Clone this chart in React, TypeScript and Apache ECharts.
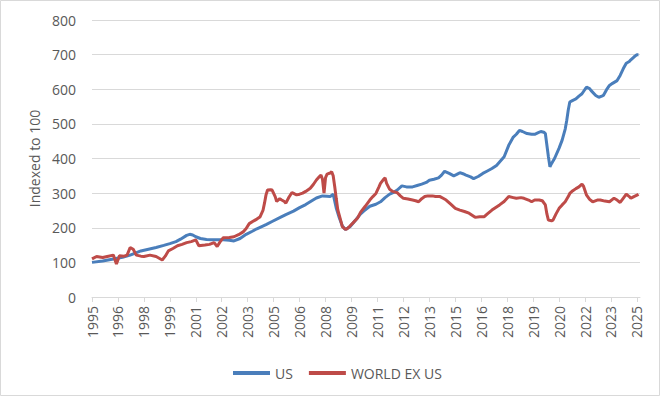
import React, { useEffect, useRef } from "react";
import * as echarts from "echarts";

// Monthly categories, first month = June 1995 (360 months)
const startYear = 1995;
const startMonth = 6;
const monthCount = 360;
const categories: string[] = [];
for (let k = 0; k < monthCount; k++) {
  const m = startMonth - 1 + k;
  const y = startYear + Math.floor(m / 12);
  const mm = (m % 12) + 1;
  categories.push(`${y}-${mm < 10 ? "0" + mm : mm}`);
}

// Month offsets (from Jun 1995) and values
const usMonth = [0, 7, 14, 20, 25, 32, 37, 42, 47, 51, 55, 58, 62, 64, 66, 68, 71, 75, 79, 86, 90, 93, 97, 101, 105, 108, 114, 118, 123, 127, 132, 136, 140, 144, 147, 151, 154, 156, 158, 160, 162, 164, 166, 169, 173, 176, 178, 182, 186, 189, 192, 195, 198, 200, 203, 206, 210, 213, 216, 219, 221, 224, 227, 229, 231, 234, 237, 239, 241, 243, 245, 248, 250, 253, 256, 259, 262, 265, 267, 270, 273, 276, 278, 280, 282, 285, 288, 290, 292, 294, 296, 297, 299, 300, 301, 303, 306, 308, 310, 311, 312, 313, 315, 317, 319, 321, 323, 324, 326, 327, 330, 332, 334, 335, 337, 339, 341, 344, 346, 348, 350, 352, 353, 355, 357, 358];
const usValue = [100, 104, 110, 115, 121, 133, 138, 143, 149, 154, 160, 167, 178, 181, 179, 174, 169, 166, 165, 165, 164, 162, 169, 181, 190, 197, 209, 218, 229, 238, 248, 258, 267, 278, 286, 292, 291, 290, 297, 257, 229, 205, 195, 203, 224, 240, 248, 262, 268, 275, 287, 297, 303, 309, 321, 318, 318, 322, 326, 331, 337, 340, 344, 352, 363, 357, 350, 354, 359, 356, 352, 347, 342, 348, 357, 364, 371, 380, 390, 405, 438, 462, 470, 481, 478, 472, 470, 470, 474, 478, 476, 472, 405, 376, 385, 400, 430, 453, 485, 510, 540, 563, 568, 572, 580, 587, 600, 606, 602, 596, 582, 577, 580, 582, 598, 611, 617, 625, 640, 659, 675, 680, 685, 693, 700, 700];

const worldMonth = [0, 3, 7, 10, 14, 16, 18, 21, 23, 25, 27, 29, 32, 34, 38, 42, 44, 46, 48, 50, 53, 56, 59, 62, 65, 68, 70, 74, 77, 80, 82, 84, 86, 90, 93, 96, 99, 101, 103, 106, 108, 110, 112, 113, 114, 115, 117, 118, 120, 121, 123, 124, 126, 127, 129, 131, 133, 134, 136, 138, 140, 143, 145, 147, 149, 150, 151, 152, 153, 154, 156, 157, 158, 159, 160, 161, 163, 164, 166, 167, 169, 171, 174, 176, 179, 182, 184, 186, 188, 189, 191, 192, 193, 195, 197, 200, 202, 204, 207, 210, 212, 214, 216, 218, 220, 223, 225, 228, 230, 232, 235, 238, 241, 244, 247, 249, 251, 254, 257, 259, 262, 265, 267, 270, 273, 276, 278, 281, 283, 286, 288, 290, 293, 295, 297, 298, 299, 301, 302, 304, 306, 308, 310, 312, 313, 315, 317, 319, 321, 322, 324, 326, 328, 331, 333, 336, 339, 341, 342, 344, 346, 348, 350, 352, 353, 355, 357, 358];
const worldValue = [110, 117, 114, 117, 121, 95, 119, 118, 121, 143, 138, 121, 118, 117, 121, 117, 112, 107, 118, 133, 140, 148, 152, 157, 160, 165, 148, 150, 152, 157, 146, 160, 171, 172, 174, 180, 188, 198, 212, 220, 225, 231, 250, 271, 295, 309, 310, 309, 290, 276, 284, 281, 276, 271, 288, 302, 297, 295, 297, 300, 305, 314, 325, 338, 348, 352, 340, 300, 345, 355, 358, 362, 350, 319, 285, 252, 220, 203, 195, 197, 205, 214, 228, 245, 262, 280, 290, 299, 318, 328, 340, 344, 328, 311, 305, 301, 292, 285, 283, 280, 278, 275, 284, 290, 292, 292, 290, 290, 285, 280, 268, 256, 251, 247, 242, 236, 230, 232, 232, 240, 251, 260, 266, 276, 290, 287, 285, 287, 285, 280, 275, 280, 280, 278, 266, 240, 222, 220, 222, 240, 256, 266, 275, 290, 299, 307, 313, 318, 326, 320, 294, 282, 275, 280, 280, 277, 275, 282, 285, 280, 273, 285, 297, 290, 285, 290, 294, 297];

const yTicks = { min: 0, max: 800, interval: 100 };

export default function App() {
  const ref = useRef<HTMLDivElement>(null);
  useEffect(() => {
    document.body.style.margin = "0";
    if (!ref.current) return;
    const chart = echarts.init(ref.current, undefined, { renderer: "svg" });
    const font = "'Open Sans', 'Liberation Sans', sans-serif";
    const txt = "#595959";
    chart.setOption({
      animation: false,
      textStyle: { fontFamily: font },
      grid: { left: 92, right: 20, top: 20, bottom: 99, containLabel: false },
      graphic: [
        {
          type: "rect",
          shape: { x: 0.5, y: 0.5, width: 659, height: 395 },
          style: { fill: "none", stroke: "#d9d9d9", lineWidth: 1 },
          silent: true,
        },
      ],
      legend: {
        left: 228,
        top: 361,
        icon: "rect",
        itemWidth: 37,
        itemHeight: 4,
        itemGap: 16,
        textStyle: { fontSize: 14, color: txt, fontFamily: font },
        data: ["US", "WORLD EX US"],
      },
      xAxis: {
        type: "category",
        data: categories,
        boundaryGap: false,
        axisLine: { lineStyle: { color: "#d9d9d9", width: 1 } },
        axisTick: { show: true, interval: 16, length: 5, lineStyle: { color: "#d9d9d9" } },
        axisLabel: {
          interval: 16,
          rotate: 90,
          margin: 9,
          fontSize: 14,
          color: txt,
          fontFamily: font,
          formatter: (v: string) => v.slice(0, 4),
        },
        splitLine: { show: false },
      },
      yAxis: {
        type: "value",
        min: yTicks.min,
        max: yTicks.max,
        interval: yTicks.interval,
        axisLine: { show: false },
        axisTick: { show: false },
        axisLabel: { fontSize: 14, color: txt, margin: 16, fontFamily: font },
        splitLine: { lineStyle: { color: "#d9d9d9", width: 1 } },
        name: "Indexed to 100",
        nameLocation: "middle",
        nameGap: 50,
        nameTextStyle: { fontSize: 14, color: txt, fontFamily: font },
      },
      series: [
        {
          name: "US",
          type: "line",
          symbol: "none",
          data: usMonth.map((m, k) => [m, usValue[k]]),
          lineStyle: { width: 3, color: "#4a7ebb" },
          itemStyle: { color: "#4a7ebb" },
        },
        {
          name: "WORLD EX US",
          type: "line",
          symbol: "none",
          data: worldMonth.map((m, k) => [m, worldValue[k]]),
          lineStyle: { width: 3, color: "#be4b48" },
          itemStyle: { color: "#be4b48" },
        },
      ],
    });
    return () => chart.dispose();
  }, []);
  return <div ref={ref} style={{ width: 660, height: 396 }} />;
}
